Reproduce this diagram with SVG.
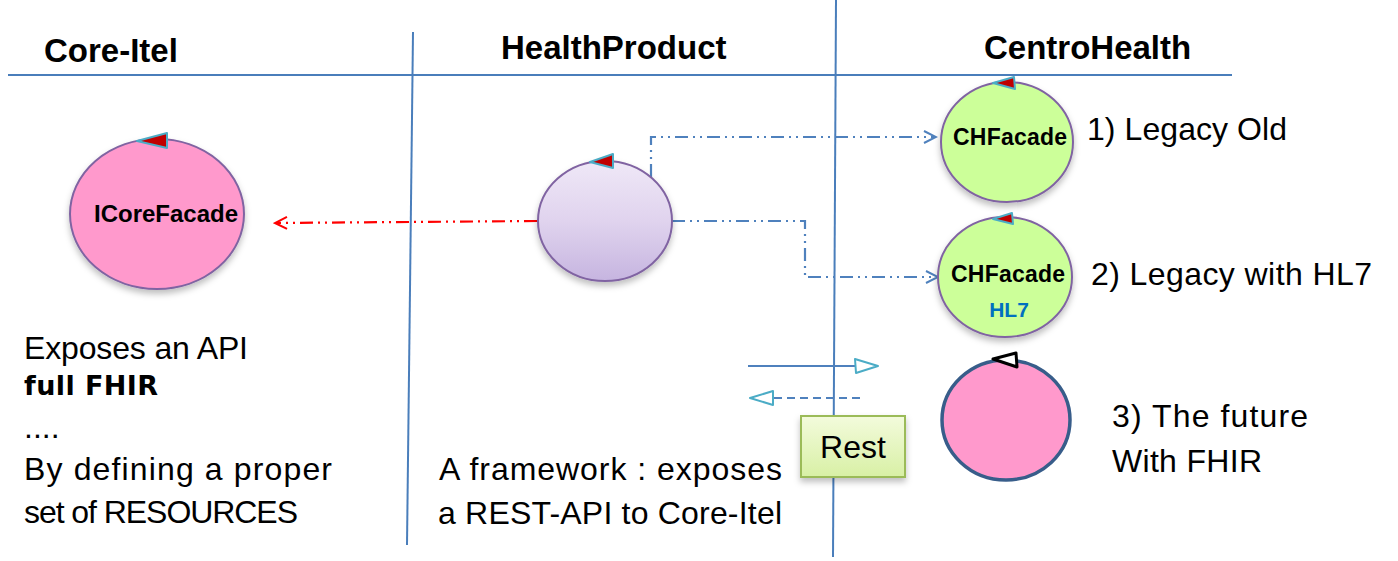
<svg xmlns="http://www.w3.org/2000/svg" width="1398" height="561" viewBox="0 0 1398 561">
<style>
.grid{stroke:#4A7EBB;stroke-width:2;fill:none}
.hdr{font-family:"Liberation Sans",Arial,sans-serif;font-weight:bold;font-size:33px;fill:#000}
.body{font-family:"Liberation Sans",Arial,sans-serif;font-size:32px;fill:#000}
.lbl{font-family:"Liberation Sans",Arial,sans-serif;font-weight:bold;fill:#000;text-anchor:middle}
.nodeP{stroke:#8064A2;stroke-width:2}
.tri{fill:#C00000;stroke:#4BACC6;stroke-width:2;stroke-linejoin:round}
.conB{stroke:#4F81BD;stroke-width:2.2;fill:none;stroke-dasharray:13 5 2 5 2 5}
.conR{stroke:#FF0000;stroke-width:2.2;fill:none;stroke-dasharray:13 5 2 5 2 5}
.hol{fill:#fff;stroke:#4BACC6;stroke-width:2;stroke-linejoin:round}
</style>
<defs>
<filter id="sh" x="-20%" y="-20%" width="140%" height="150%">
<feDropShadow dx="0" dy="4" stdDeviation="3" flood-color="#000" flood-opacity="0.25"/>
</filter>
<linearGradient id="gPurple" x1="0" y1="0" x2="0" y2="1">
<stop offset="0" stop-color="#EFE8F7"/>
<stop offset="0.5" stop-color="#E0D3EE"/>
<stop offset="1" stop-color="#C6B5E0"/>
</linearGradient>
<linearGradient id="gRest" x1="0" y1="0" x2="0" y2="1">
<stop offset="0" stop-color="#F3FBDC"/>
<stop offset="1" stop-color="#D8F0A5"/>
</linearGradient>
<marker id="arrR" markerWidth="16" markerHeight="16" refX="14" refY="8" orient="auto" markerUnits="userSpaceOnUse">
<path d="M2,2 L14,8 L2,14" fill="none" stroke="#FF0000" stroke-width="2"/>
</marker>
<marker id="arrB" markerWidth="16" markerHeight="16" refX="14" refY="8" orient="auto" markerUnits="userSpaceOnUse">
<path d="M2,2 L14,8 L2,14" fill="none" stroke="#4F81BD" stroke-width="2"/>
</marker>
</defs>
<rect width="1398" height="561" fill="#fff"/>

<g id="swimlanes">
<line class="grid" x1="8" y1="75" x2="1232" y2="75"/>
<line class="grid" x1="413" y1="32" x2="407" y2="545"/>
<line class="grid" x1="836" y1="0" x2="833" y2="557"/>
<text class="hdr" x="44" y="62">Core-Itel</text>
<text class="hdr" x="501" y="59">HealthProduct</text>
<text class="hdr" x="984" y="59">CentroHealth</text>
</g>

<g id="connectors">
<polyline class="conR" points="537,221 275,223" marker-end="url(#arrR)"/>
<polyline class="conB" points="651,177 651,137 936,137" marker-end="url(#arrB)"/>
<polyline class="conB" points="672,221 805,221 805,277 938,277" marker-end="url(#arrB)"/>
<line x1="748" y1="366" x2="856" y2="366" stroke="#4F81BD" stroke-width="2"/>
<polygon class="hol" points="855,359 878,366 856,373"/>
<line x1="860" y1="398" x2="773" y2="398" stroke="#4F81BD" stroke-width="2" stroke-dasharray="8 5"/>
<polygon class="hol" points="773,391 750,398 773,405"/>
</g>

<g id="ICoreFacade">
<ellipse cx="157" cy="214" rx="87" ry="75" fill="#FF99CC" class="nodeP" filter="url(#sh)"/>
<polygon class="tri" points="137,141 167,133 167,148"/>
<text class="lbl" x="166" y="222" font-size="24" textLength="144">ICoreFacade</text>
</g>

<g id="HealthProductNode">
<ellipse cx="605" cy="221" rx="67" ry="60" fill="url(#gPurple)" class="nodeP" filter="url(#sh)"/>
<polygon class="tri" points="590,162 613,154 613,168"/>
</g>

<g id="CHFacade1">
<ellipse cx="1007" cy="142" rx="66" ry="60" fill="#CCFF99" class="nodeP" filter="url(#sh)"/>
<polygon class="tri" points="993,83 1014,77 1015,89"/>
<text class="lbl" x="1010" y="145" font-size="23" textLength="114">CHFacade</text>
</g>

<g id="CHFacade2">
<ellipse cx="1005" cy="277" rx="67" ry="60" fill="#CCFF99" class="nodeP" filter="url(#sh)"/>
<polygon class="tri" points="993,219 1012,213 1013,224"/>
<text class="lbl" x="1008" y="282" font-size="23" textLength="114">CHFacade</text>
<text class="lbl" x="1009" y="317" font-size="21" style="fill:#0070C0">HL7</text>
</g>

<g id="FHIRNode">
<ellipse cx="1006" cy="420" rx="64" ry="60" fill="#FF99CC" stroke="#385D8A" stroke-width="3.5"/>
<polygon points="993,359 1016,353 1017,367" fill="#fff" stroke="#000" stroke-width="3" stroke-linejoin="round"/>
</g>

<g id="RestBox">
<rect x="801" y="416" width="104" height="61" fill="url(#gRest)" stroke="#9BBB59" stroke-width="2" filter="url(#sh)"/>
<text class="body" x="853" y="458" text-anchor="middle">Rest</text>
</g>

<g id="texts">
<text class="body" x="24" y="359" textLength="224">Exposes an API</text>
<text x="24" y="395" font-family="'DejaVu Sans',Verdana,sans-serif" font-weight="bold" font-size="27" textLength="134">full FHIR</text>
<text class="body" x="24" y="438">....</text>
<text class="body" x="24" y="480" textLength="308">By defining a proper</text>
<text class="body" x="24" y="523" textLength="274">set of RESOURCES</text>
<text class="body" x="439" y="480" textLength="343">A framework : exposes</text>
<text class="body" x="438" y="524" textLength="344">a REST-API to Core-Itel</text>
<text class="body" x="1087" y="140" textLength="200">1) Legacy Old</text>
<text class="body" x="1091" y="285" textLength="281">2) Legacy with HL7</text>
<text class="body" x="1112" y="427" textLength="196">3) The future</text>
<text class="body" x="1112" y="472" textLength="150">With FHIR</text>
</g>
</svg>
